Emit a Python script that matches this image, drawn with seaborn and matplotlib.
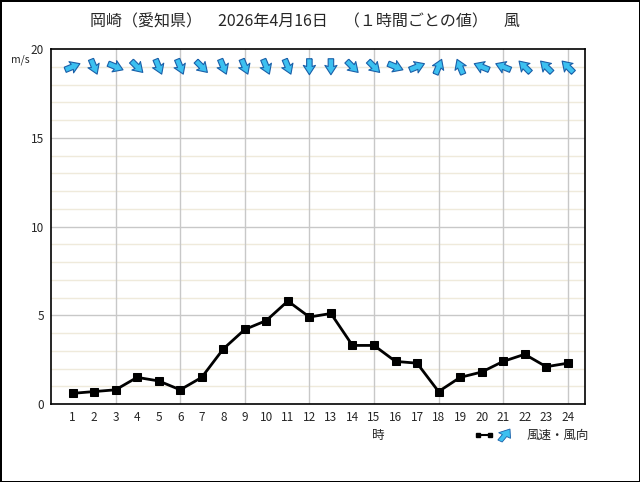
import numpy as np
import pandas as pd
import matplotlib
matplotlib.use("Agg")
import matplotlib.pyplot as plt
import seaborn as sns
from matplotlib.lines import Line2D
from matplotlib.patches import FancyArrow

hours = list(range(1, 25))
speed = [0.6, 0.7, 0.8, 1.5, 1.3, 0.8, 1.5, 3.1, 4.2, 4.7, 5.8, 4.9,
         5.1, 3.3, 3.3, 2.4, 2.3, 0.7, 1.5, 1.8, 2.4, 2.8, 2.1, 2.3]
# direction the wind blows from (16 points)
wind_from = ['WSW', 'NNW', 'WNW', 'NW', 'NNW', 'NNW', 'NW', 'NNW', 'NNW', 'NNW', 'NNW', 'N',
             'N', 'NW', 'NW', 'WNW', 'WSW', 'SSW', 'SSE', 'ESE', 'ESE', 'SE', 'SE', 'SE']
y_ticks = [0, 5, 10, 15, 20]
title = '岡崎（愛知県）　2026年4月16日　（１時間ごとの値）　風'

points16 = ['N', 'NNE', 'NE', 'ENE', 'E', 'ESE', 'SE', 'SSE',
            'S', 'SSW', 'SW', 'WSW', 'W', 'WNW', 'NW', 'NNW']
df = pd.DataFrame({'hour': hours, 'speed': speed, 'dir': wind_from})
to_deg = np.deg2rad([(points16.index(d) * 22.5 + 180) % 360 for d in df['dir']])
df['u'] = np.sin(to_deg)
df['v'] = np.cos(to_deg)

sns.set_theme(style="white")
plt.rcParams['font.family'] = ['Noto Sans CJK JP', 'DejaVu Sans']

fig = plt.figure(figsize=(6.4, 4.82), dpi=100)
fig.patch.set_edgecolor('black')
fig.patch.set_linewidth(2)
ax = fig.add_axes([51 / 640, 1 - 404 / 482, 534 / 640, 355 / 482])

# grid
for yv in range(1, 20):
    c = '#c8c8c8' if yv % 5 == 0 else '#efeadb'
    ax.axhline(yv, color=c, lw=1, zorder=0, snap=True)
for xv in range(3, 25, 3):
    ax.axvline(xv, color='#c8c8c8', lw=1, zorder=0, snap=True)

sns.lineplot(data=df, x='hour', y='speed', ax=ax, color='black', lw=2,
             marker='s', markersize=6, markeredgecolor='black', zorder=3)

ax.quiver(df['hour'], np.full(len(df), 19.0), df['u'], df['v'],
          angles='uv', scale_units='inches', scale=1 / 0.16, units='inches',
          width=0.055, headwidth=2.2, headlength=1.7, headaxislength=1.5,
          pivot='middle', facecolor='#3cc0f0', edgecolor='#1a5fa8',
          linewidth=0.8, zorder=4)

ax.set_xlim(0, 24.8)
ax.set_ylim(0, 20)
ax.set_xticks(hours)
ax.set_xticklabels([str(h) for h in hours], fontsize=8.5)
ax.set_yticks(y_ticks)
ax.set_yticklabels([str(t) for t in y_ticks], fontsize=8.5)
ax.tick_params(length=0, pad=5)
ax.set_xlabel('')
ax.set_ylabel('')
for s in ax.spines.values():
    s.set_color('black')
    s.set_linewidth(1.2)

fig.text(305 / 640, 1 - 22 / 482, title, ha='center', va='center', fontsize=11.5)
fig.text(20 / 640, 1 - 60 / 482, 'm/s', ha='center', va='center', fontsize=7.5)
fig.text(378 / 640, 1 - 435 / 482, '時', ha='center', va='center', fontsize=9)
fig.text(527 / 640, 1 - 435 / 482, '風速・風向', ha='left', va='center', fontsize=9)
fig.add_artist(Line2D([478 / 640, 490 / 640], [1 - 435 / 482] * 2, color='black', lw=1.5,
                      marker='s', markersize=2.5, markevery=[0, 1]))
fig.add_artist(FancyArrow(500 / 640, 1 - 441 / 482, 10 / 640, 12 / 482, width=0.008,
                          head_width=0.022, head_length=0.016, length_includes_head=True,
                          facecolor='#3cc0f0', edgecolor='#1a5fa8', lw=0.6,
                          transform=fig.transFigure))

fig.savefig('out.png', dpi=100)
